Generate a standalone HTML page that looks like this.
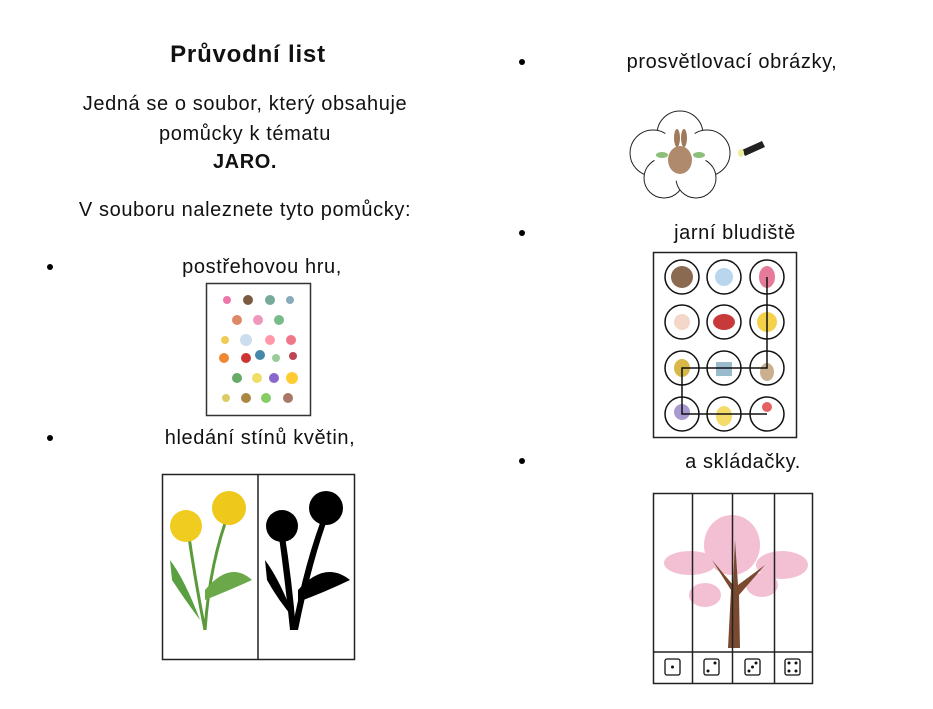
<!DOCTYPE html>
<html><head><meta charset="utf-8"><style>
body{margin:0;width:933px;height:709px;background:#fff;position:relative;overflow:hidden;font-family:"Liberation Sans","DejaVu Sans",sans-serif;color:#111}
.t{position:absolute;font-size:20px;letter-spacing:0.6px;white-space:nowrap;transform:translateX(-50%)}
.b{font-weight:bold}
.dot{position:absolute;width:6px;height:6px;border-radius:50%;background:#000}
svg{position:absolute;left:0;top:0}
</style></head><body>
<div class="t b" style="left:248px;top:41px;font-size:24px;letter-spacing:0.8px">Průvodní list</div>
<div class="t" style="left:245px;top:93px">Jedná se o soubor, který obsahuje</div>
<div class="t" style="left:245px;top:123px">pomůcky k tématu</div>
<div class="t b" style="left:245px;top:151px">JARO.</div>
<div class="t" style="left:245px;top:199px">V souboru naleznete tyto pomůcky:</div>
<div class="dot" style="left:47px;top:264px"></div>
<div class="t" style="left:262px;top:256px">postřehovou hru,</div>
<div class="dot" style="left:47px;top:435px"></div>
<div class="t" style="left:260px;top:427px">hledání stínů květin,</div>
<div class="dot" style="left:519px;top:59px"></div>
<div class="t" style="left:732px;top:51px">prosvětlovací obrázky,</div>
<div class="dot" style="left:519px;top:230px"></div>
<div class="t" style="left:735px;top:222px">jarní bludiště</div>
<div class="dot" style="left:519px;top:458px"></div>
<div class="t" style="left:743px;top:451px">a skládačky.</div>

<svg width="933" height="709" viewBox="0 0 933 709">
<rect x="206.5" y="283.5" width="104" height="132" fill="#fff" stroke="#333" stroke-width="1.5"/>
<g>
<circle cx="227" cy="300" r="4" fill="#e7a"/><circle cx="248" cy="300" r="5" fill="#7a5a40"/><circle cx="270" cy="300" r="5" fill="#7a9"/><circle cx="290" cy="300" r="4" fill="#8ab"/>
<circle cx="237" cy="320" r="5" fill="#d86"/><circle cx="258" cy="320" r="5" fill="#e9b"/><circle cx="279" cy="320" r="5" fill="#7b8"/>
<circle cx="225" cy="340" r="4" fill="#ec5"/><circle cx="246" cy="340" r="6" fill="#cde"/><circle cx="270" cy="340" r="5" fill="#f9a"/><circle cx="291" cy="340" r="5" fill="#e78"/>
<circle cx="224" cy="358" r="5" fill="#e83"/><circle cx="246" cy="358" r="5" fill="#c33"/><circle cx="260" cy="355" r="5" fill="#48a"/><circle cx="276" cy="358" r="4" fill="#9c9"/><circle cx="293" cy="356" r="4" fill="#b45"/>
<circle cx="237" cy="378" r="5" fill="#6a6"/><circle cx="257" cy="378" r="5" fill="#ed6"/><circle cx="274" cy="378" r="5" fill="#86c"/><circle cx="292" cy="378" r="6" fill="#fc3"/>
<circle cx="226" cy="398" r="4" fill="#dc6"/><circle cx="246" cy="398" r="5" fill="#a84"/><circle cx="266" cy="398" r="5" fill="#8c6"/><circle cx="288" cy="398" r="5" fill="#a76"/>
</g>
<rect x="162.5" y="474.5" width="192" height="185" fill="#fff" stroke="#222" stroke-width="1.5"/>
<line x1="258" y1="474" x2="258" y2="660" stroke="#222" stroke-width="1.5"/>
<g stroke="#5a9a3a" stroke-width="3" fill="none"><path d="M188 530 Q195 580 205 630"/><path d="M230 510 Q210 560 205 630"/></g>
<path d="M170 560 Q185 580 200 620 Q185 600 172 580Z" fill="#5aa040"/><path d="M205 590 Q230 560 252 580 Q230 590 205 600Z" fill="#6aa84a"/>
<circle cx="186" cy="526" r="16" fill="#f1cc20"/><circle cx="229" cy="508" r="17" fill="#eec81a"/>
<g fill="#000"><path d="M278 530 Q285 580 290 630 L296 630 Q292 580 284 530Z"/><path d="M325 510 Q305 560 292 630 L298 630 Q312 560 330 512Z"/>
<path d="M265 560 Q280 580 295 620 Q278 600 267 580Z"/><path d="M298 590 Q325 560 350 580 Q325 592 298 602Z"/>
<circle cx="282" cy="526" r="16"/><circle cx="326" cy="508" r="17"/></g>
<g fill="#fff" stroke="#222" stroke-width="1">
<circle cx="680" cy="134" r="23"/><circle cx="653" cy="153" r="23"/><circle cx="707" cy="153" r="23"/><circle cx="664" cy="178" r="20"/><circle cx="696" cy="178" r="20"/>
</g>
<circle cx="680" cy="155" r="26" fill="#fff"/>
<ellipse cx="680" cy="160" rx="12" ry="14" fill="#b08a6c"/><ellipse cx="677" cy="138" rx="3" ry="9" fill="#a07a5a"/><ellipse cx="684" cy="138" rx="3" ry="9" fill="#a07a5a"/>
<ellipse cx="662" cy="155" rx="6" ry="3" fill="#8bbf7a"/><ellipse cx="699" cy="155" rx="6" ry="3" fill="#8bbf7a"/>
<path d="M742 150 L762 141 L765 147 L745 156Z" fill="#222"/><ellipse cx="741" cy="153" rx="3" ry="4" fill="#ee9"/>
<rect x="653.5" y="252.5" width="143" height="185" fill="none" stroke="#222" stroke-width="1.5"/>
<g fill="#fff" stroke="#111" stroke-width="1.5">
<circle cx="682" cy="277" r="17"/><circle cx="724" cy="277" r="17"/><circle cx="767" cy="277" r="17"/>
<circle cx="682" cy="322" r="17"/><circle cx="724" cy="322" r="17"/><circle cx="767" cy="322" r="17"/>
<circle cx="682" cy="368" r="17"/><circle cx="724" cy="368" r="17"/><circle cx="767" cy="368" r="17"/>
<circle cx="682" cy="414" r="17"/><circle cx="724" cy="414" r="17"/><circle cx="767" cy="414" r="17"/>
</g>
<g>
<circle cx="682" cy="277" r="11" fill="#8a6a50"/><circle cx="724" cy="277" r="9" fill="#b9d6ee"/><ellipse cx="767" cy="277" rx="8" ry="11" fill="#e57a9a"/>
<circle cx="682" cy="322" r="8" fill="#f3d7c8"/><ellipse cx="724" cy="322" rx="11" ry="8" fill="#c83a3a"/><circle cx="767" cy="322" r="10" fill="#f3d24a"/>
<ellipse cx="682" cy="368" rx="8" ry="9" fill="#d9b84a"/><rect x="716" y="362" width="16" height="14" fill="#9bc"/><ellipse cx="767" cy="372" rx="7" ry="9" fill="#cbb090"/>
<circle cx="682" cy="412" r="8" fill="#a89ad0"/><ellipse cx="724" cy="416" rx="8" ry="10" fill="#f3dc6a"/><circle cx="767" cy="407" r="5" fill="#e56060"/>
</g>
<path d="M767 277 V368 H682 V414 H767" fill="none" stroke="#111" stroke-width="1.5"/>
<rect x="653.5" y="493.5" width="159" height="190" fill="none" stroke="#222" stroke-width="1.5"/>
<g fill="#f2b6cc" opacity=".85">
<ellipse cx="732" cy="545" rx="28" ry="30"/><ellipse cx="690" cy="563" rx="26" ry="12"/><ellipse cx="782" cy="565" rx="26" ry="14"/><ellipse cx="705" cy="595" rx="16" ry="12"/><ellipse cx="762" cy="585" rx="16" ry="12"/>
</g>
<path d="M728 648 L731 590 L712 560 L733 585 L735 540 L738 585 L765 565 L739 595 L740 648Z" fill="#7a4a30"/>
<line x1="653" y1="652" x2="812" y2="652" stroke="#222" stroke-width="1.5"/>
<g stroke="#222" stroke-width="1.5"><line x1="692.5" y1="494" x2="692.5" y2="684"/><line x1="732.5" y1="494" x2="732.5" y2="684"/><line x1="774.5" y1="494" x2="774.5" y2="684"/></g>
<g fill="#fff" stroke="#111" stroke-width="1.3">
<rect x="665" y="659" width="15" height="16" rx="2"/><rect x="704" y="659" width="15" height="16" rx="2"/><rect x="745" y="659" width="15" height="16" rx="2"/><rect x="785" y="659" width="15" height="16" rx="2"/>
</g>
<g fill="#111">
<circle cx="672.5" cy="667" r="1.5"/>
<circle cx="708" cy="671" r="1.5"/><circle cx="715" cy="663" r="1.5"/>
<circle cx="749" cy="671" r="1.5"/><circle cx="752.5" cy="667" r="1.5"/><circle cx="756" cy="663" r="1.5"/>
<circle cx="789" cy="663" r="1.5"/><circle cx="796" cy="663" r="1.5"/><circle cx="789" cy="671" r="1.5"/><circle cx="796" cy="671" r="1.5"/>
</g>
</svg>
</body></html>
